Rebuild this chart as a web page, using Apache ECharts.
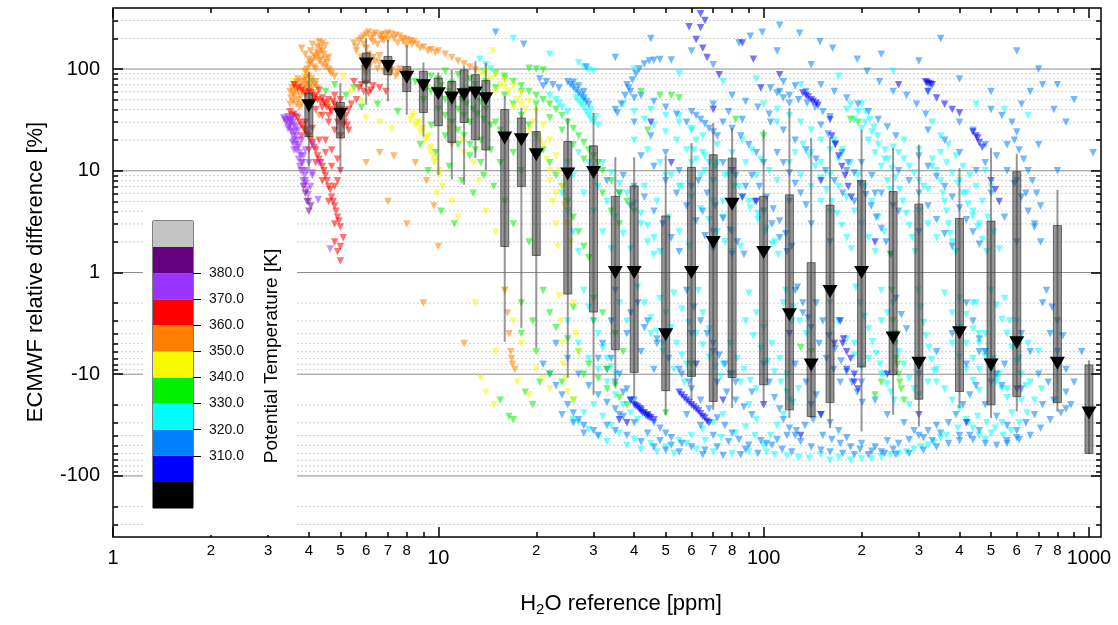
<!DOCTYPE html>
<html><head><meta charset="utf-8">
<script src="https://cdn.jsdelivr.net/npm/echarts@6/dist/echarts.min.js"></script>
<style>html,body{margin:0;padding:0;background:#fff}#c{width:1118px;height:625px}</style>
</head><body><div id="c"></div>
<script>
// ---------- axis ticks ----------
const xMajorTicks = [1, 10, 100, 1000];
const xMinorTicks = [2,3,4,5,6,7,8,9,20,30,40,50,60,70,80,90,200,300,400,500,600,700,800,900];
const xMinorLabels = [2,3,4,5,6,7,8,20,30,40,50,60,70,80,200,300,400,500,600,700,800];
const yMajorTicks = [100, 10, 1, -10, -100];
const yMinorTicks = [300,200,90,80,70,60,50,40,30,20,9,8,7,6,5,4,3,2,-2,-3,-4,-5,-6,-7,-8,-9,-20,-30,-40,-50,-60,-70,-80,-90,-200,-300];
// ---------- colour scale (potential temperature) ----------
const thetaEdges = [290,300,310,320,330,340,350,360,370,380,390,400];
const thetaColors = ['#000000','#0000FF','#0080FF','#00FFFF','#00F000','#F8F800','#FF8000','#FF0000','#9933FF','#660080','#C4C4C4'];
const thetaTicks = [310,320,330,340,350,360,370,380];
// ---------- box statistics per H2O bin ----------
const boxPPM = [4,5,6,7,8,9,10,11,12,13,14,16,18,20,25,30,35,40,50,60,70,80,100,120,140,160,200,250,300,400,500,600,800,1000];
const boxWhiskerLow = [11,9.8,44.6,48,35.5,21.7,9.1,8.2,7.3,13.3,10.2,-4.8,-3.5,-5.5,-10.9,-16,-13.2,-17.2,-25,-17.9,-22.4,-21.5,-19.2,-27,-27,-34,-36.6,-25,-32.7,-21.5,-27,-23.3,-23.3,-61];
const boxQ1 = [21.7,21,73,88,60,37.4,27.7,19,29.8,20.2,16,1.8,7.0,1.47,-1.63,-2.45,-5.75,-9.6,-14.5,-10.5,-18.5,-10.8,-12.7,-22.4,-26,-19,-8.5,-10.1,-17.6,-14.8,-20,-16.6,-19,-60];
const boxQ3 = [58,47,144,133,106,95,81.6,75.5,98,88,77,40,33,24.3,19.4,17.6,5.6,7.1,3.6,10.8,14.4,13.3,5.6,5.8,1.25,4.6,8.0,6.25,4.7,3.4,3.2,9.8,2.9,-8.1];
const boxWhiskerHigh = [95,73,202,194,173,116,92.6,98,106,119,115,54,41.6,42.6,33,36.9,13.6,13.6,14,18.7,29.4,26.3,25.3,41.4,21,21.5,25.3,16.7,18,10.6,16.7,14.7,6.5,-7.3];
const boxMedian = [43.5,36,112,106,83,68.5,57,52,56,58,51,21,20.2,14.4,9.3,9.6,1,1,-4.1,1,1.97,4.7,1.57,-2.6,-8.1,-1.54,1,-4.4,-7.8,-3.9,-8.1,-4.9,-7.8,-24];
// ---------- scatter [H2O ppm, rel. diff %] by theta band ----------
const pts325 = [ // cyan 320-330 K
[13.4,125],[14,110],[13.8,95],[14.5,100],[22,55],[23,50],[24,42],[25,38],[23.5,46],
[26.5,52],[27,48],[27.5,45],[28,42],[28.5,38],[29,35],[29.5,32],[30,30],[31,28],[28,50],[29.5,40],[30.5,34],[27,115],[28,105],[29,98],[30,95],
[37,45],[40,38],[43,32],[46,28],[50,24],[54,20],[58,16],[62,13],[66,10],[70,8],[45,40],[50,35],[55,30],[60,26],[65,22],[72,18],[80,15],[88,12],[95,9],
[40,20],[44,16],[48,12],[52,9],[56,7],[60,5.5],[64,4.2],[68,3.3],[72,2.5],[76,2],[80,1.6],
[100,45],[110,40],[120,35],[130,30],[140,25],[150,20],[160,16],[170,13],[180,40],[190,32],[200,26],[210,20],[220,15],[230,11],[240,8],[245,6.5],
[185,45],[195,38],[205,30],[215,24],[225,18],[235,13],[120,12],[130,9],[140,7],[150,5],[160,4],
[250,17],[260,15],[270,13],[280,11],[290,9.5],[300,8],[310,7],[320,6.5],[330,13],[340,10],[350,8],[355,6],[360,5],[365,4],[370,3],[375,2.4],[380,2],[390,1.6],
[270,20],[300,16],[330,11],[400,8],[420,6],[440,4],[460,3],[480,10],[500,7],
[17,200],[22,140],[40,100],[55,90],[75,75],[95,80],[130,70],[170,85],[250,95],[320,60],[450,45],[550,40],[650,35],
[25,-3],[27,-5],[29,-7],[31,-9],[33,-12],[35,-16],[37,-20],[39,-24],[41,-28],[26,-28],[28,-24],[30,-20],[32,-26],[34,-32],[36,-38],[40,-44],[45,-48],[50,-52],
[55,-45],[60,-40],[65,-35],[70,-30],[75,-25],[62,-55],[70,-58],[80,-60],[90,-58],[100,-50],[105,-40],[110,-32],[115,-25],[120,-18],[128,-14],
[150,-62],[170,-66],[200,-68],[230,-65],[260,-60],[290,-55],[320,-50],[350,-42],[280,-20],[300,-16],[320,-12],[340,-9],[360,-14],[380,-18],[400,-22],[420,-28],[440,-34],[460,-40],[480,-44],
[500,-38],[540,-30],[580,-24],[620,-18],[660,-12],[700,-6],[450,-2],[480,-4],[510,-7],[530,-10],[560,-14],[230,-10],[210,-7],[190,-5],[170,-3],[600,-3],[650,-5],[90,-20],[95,-28],[85,-12],[75,-8],[250,-2],[230,-3],
[440,-2],[460,-4],[480,-6],[500,-9],[520,-12],[55,35],[60,25],[65,15],[70,8],[75,5],[62,20],[68,12],[110,30],[125,15],
[24,6],[25,4],[26,2.5],[27,1.6],[28,-1.5],[29,-2.2],[30,-3],[31,-4],[32,-5.5],[33,-7],[34,-8.5],[35,-10],[26,9],[28,6],[30,4],[32,2.5],[34,1.7],[36,-2],[38,-3],[25,12],[27,15],[29,12],
[42,3],[44,2],[46,1.5],[48,-1.8],[50,-2.5],[52,-3.5],[54,-5],[56,-6.5],[58,-8],[60,-10],[43,7],[47,5],[51,3.5],[55,2.5],[59,1.8],[63,-1.5],[50,9],[55,7],[60,12],[64,9],[45,-4],[49,-6],[53,-9],[57,-12],
[70,5],[75,3.5],[80,2.5],[85,1.8],[90,-1.6],[95,-2.5],[100,-3.5],[106,-5],[112,-7],[118,-10],[72,12],[78,9],[84,7],[90,5],[96,3.8],[102,2.7],[108,2],[115,-2],[122,-3],[86,20],[92,16],[98,13],[104,10],[110,8],
[140,15],[150,12],[160,9],[170,7],[180,5.5],[190,4],[200,3],[210,2.2],[220,1.6],[230,-1.5],[240,-2.5],[250,-4],[260,-6],[270,-8],[280,-11],[290,-14],[165,20],[175,16],[185,12],[195,9],[205,7],[215,5],[225,3.5],[235,2.5],[160,-2],[170,-3],[180,-4.5],[190,-6.5],[200,-8.5],
[300,4],[320,3],[340,2.2],[360,-1.6],[380,-2.5],[400,-3.5],[420,-5],[440,-7],[460,-9],[330,30],[350,22],[370,18],[390,14],[410,11],[430,9],[450,7],[470,5],[490,3.5],[510,2.5],[530,1.7],[550,-1.8],[570,-3],[590,-5],[610,-7],
[31,7],[33,5],[35,3.5],[37,2.4],[39,1.7],[41,-1.4],[43,-2],[45,-2.8],[47,-3.8],[49,-5],[32,12],[34,9.5],[36,7.5],[38,6],[40,4.8],[42,3.8],[44,2.9],[46,2.2],[48,1.6],[53,-1.6],[56,-2.3],[59,-3.1],[62,-4],[65,-5.2],[68,-6.8],[71,-8.5],[74,-10.5],
[61,16],[66,14],[71,11],[76,9],[81,7],[86,5.5],[91,4.3],[96,3.3],[101,2.5],[106,1.9],[111,1.5],[117,-1.5],[123,-2.2],[129,-3],[135,-4],[88,-3],[93,-4.2],[98,-5.6],[103,-7.5],[108,-9.5],[113,-12],[118,-15],[123,-19],[79,-5],[83,-7],[87,-9],[91,-11.5],[95,-14],[65,-2.5],[68,-3.6],
[132,18],[138,14],[144,11],[150,8.5],[156,6.5],[162,5],[168,3.8],[174,2.9],[180,2.2],[186,1.7],[192,-1.4],[198,-2],[204,-2.7],[210,-3.6],[216,-4.8],[222,-6.3],[228,-8],[234,-10],[240,-12.5],[246,-15],[252,-18],
[200,45],[206,38],[212,32],[218,27],[224,22],[236,16],[242,13],[248,10.5],[254,8.5],[262,6.5],[268,5],[274,3.8],[280,2.9],[286,2.2],[292,1.6],[298,-1.5],[304,-2.2],[310,-3.1],[316,-4.2],[322,-5.5],[328,-7.2],[334,-9.3],[340,-12],
[350,15],[365,12],[380,9.5],[395,7.5],[410,6],[425,4.7],[440,3.6],[455,2.8],[470,2.1],[485,1.6],[500,-1.5],[520,-2.1],[540,-2.9],[560,-4],[580,-5.5],[600,-7.5],[620,-10],[640,-13],
[400,-1.8],[420,-2.6],[440,-3.6],[460,-5],[480,-6.7],[500,-8.7],[520,-11],[540,-14],[560,-17],[380,-5],[400,-6.8],[420,-9],[440,-11.5],[460,-14.5],
[27,-30],[29,-35],[31,-41],[33,-46],[38,-50],[42,-55],[47,-58],[53,-60],[58,-48],[66,-45],[74,-42],[82,-38],[88,-33],[94,-40],[102,-58],[108,-62],[118,-64],[128,-66],[138,-67],[160,-70],[185,-70],[215,-68],[245,-62],[275,-58],[305,-52],[335,-47],[365,-40],[395,-34],[425,-30],[455,-26],[485,-30],[515,-34],[545,-40],[575,-36],[610,-30],[645,-24],[680,-18],[715,-14]
];
const pts315 = [ // light blue 310-320 K
[20.5,80],[21.5,75],[22.5,70],[23.5,65],[21,68],
[25,75],[25.5,70],[26,66],[26.5,62],[27,58],[27.5,55],[28,52],[28.5,48],[29,45],[26,74],[27,68],[28,60],
[35.5,37],[36.5,45],[37.5,55],[38.5,65],[39.5,78],[40.5,90],[41.5,100],[43,112],[44.5,120],[46,122],[48,124],[38,70],[39,60],[40,52],[52,123],
[60,38],[62,35],[64,32],[66,29],[68,26],[70,24],[72,22],[75,30],[80,26],[85,22],[90,18],[95,15],[100,12],[42,55],[46,48],[50,42],[54,36],[58,30],[70,45],[78,38],[86,32],
[105,30],[115,25],[125,20],[135,16],[145,13],[155,10],[165,8],[175,6],[190,5],[200,12],[215,9],[230,6],[250,4.5],[112,60],[120,55],[128,50],[136,46],[144,42],[152,38],[160,34],
[105,65],[110,58],[115,52],[120,46],
[590,20],[610,16],[630,13],[650,10],[670,8],[690,6],[710,4.5],[600,24],[560,18],[520,14],[480,18],[440,25],[400,30],[360,20],[320,25],
[15,230],[18.3,175],[28.5,105],[84,180],[91,210],[99,230],[112,270],[129,225],[149,185],[163,160],[194,125],[208,95],[227,75],[250,60],[275,55],[295,45],[315,36],
[60,150],[70,110],[35,130],[45,200],[110,150],[140,110],[230,140],[300,120],[400,80],[500,60],[350,200],[700,100],[800,70],[900,50],[600,150],
[35,40],[40,30],[45,22],[50,15],[55,10],[60,7],[65,4],[70,2.5],[80,1.5],[120,5],[140,3],[160,2],[180,10],[220,6],[260,4],[300,2.5],
[21,-8],[22,-10],[23,-13],[24,-16],[25,-20],[26,-24],[27,-28],[28,-32],[30,-36],[24,-25],[26,-30],[28,-38],[31,-40],
[32,-5],[34,-7],[36,-10],[38,-14],[40,-18],[42,-22],[44,-26],[46,-30],[48,-34],[50,-38],[36,-25],[40,-30],[44,-38],[48,-45],[52,-50],[34,-3],[38,-4],[42,-6],[46,-9],
[56,-10],[60,-14],[64,-18],[68,-22],[72,-27],[76,-32],[80,-38],[84,-44],[90,-50],[58,-25],[64,-32],[70,-40],[78,-46],[88,-55],[96,-60],[100,-8],[104,-12],[108,-17],[112,-22],[60,-4],[70,-6],[80,-10],[92,-15],
[115,-28],[120,-34],[125,-40],[130,-46],[140,-52],[150,-56],[160,-58],[175,-60],[190,-62],[210,-62],[230,-58],[250,-55],[140,-20],[150,-25],[160,-30],[170,-36],[180,-42],[200,-48],[220,-52],[240,-45],[125,-8],[135,-12],[145,-16],[200,-12],[220,-18],[240,-25],
[270,-30],[290,-36],[310,-42],[330,-45],[350,-38],[370,-30],[390,-25],[410,-20],[430,-16],[450,-13],[480,-20],[520,-26],[560,-32],[600,-36],[640,-30],[680,-25],[720,-20],[780,-18],[850,-22],
[300,-10],[340,-6],[380,-4],[420,-8],[460,-6],[500,-12],[550,-8],[620,-14],[700,-10],[750,-12],[850,-15],
[400,15],[450,10],[500,6],[550,3.5],[600,2],[480,12],[700,18],[800,10],[1030,15],
[30,10],[33,8],[36,6],[39,4.5],[42,14],[46,11],[50,8],[54,6],[58,4.5],[62,3.2],[66,2.3],[70,1.7],[35,-1.5],[39,-2.5],[43,-3.5],[47,-5],[51,-7],[55,-9],[59,-12],
[75,12],[82,9],[88,7],[94,5],[100,4],[106,3],[112,2.2],[118,1.6],[125,-1.5],[132,-2.5],[140,-3.5],[148,-5],[156,-7],[164,-9],[172,-12],
[80,55],[88,48],[96,42],[104,36],[115,75],[125,68],[135,60],[150,70],[165,60],[180,52],[195,45],[210,38],[225,32],[240,27],[255,22],
[260,10],[280,8],[300,6],[320,4.5],[340,3.3],[360,2.4],[380,1.8],[420,-2],[440,-3],[460,-4.5],[480,-6],[500,-8],[520,-10],[540,-13],
[600,8],[640,6],[680,3],[720,-2],[760,-4],[800,-6],[850,-9],[900,-12],[950,-6],[620,-4],[660,-6],
[500,40],[540,35],[580,30],[620,45],[660,60],[720,70],[780,40],[850,30],
[23,-5],[25,-7],[27,-10],[29,-13],[31,-16],[33,-19],[35,-22],[37,-26],[52,-42],[56,-48],[60,-52],[66,-56],[72,-52],[98,-45],[106,-50],[114,-55],[122,-58],[260,-48],[280,-44],[300,-40],[320,-36],[340,-32],[400,-45],[430,-40],[460,-36],[560,-45],[600,-42],
[37,9],[40,7],[43,5.5],[46,4],[49,3],[52,2.2],[55,1.6],[58,-1.5],[61,-2.2],[64,-3],[67,-4],[70,-5],[73,-6.5],[76,-8],[79,-10],[82,-12],[31,-7],[33,-9],[35,-12],[37,-15],[39,-18],[41,-2],[44,-3],[47,-4.5],
[63,8],[67,6],[71,4.5],[75,3.4],[79,2.6],[83,2],[87,1.5],[92,9],[97,7],[102,5.5],[107,4.2],[112,3.2],[117,2.4],[122,1.8],[127,-1.4],[132,-2],[137,-2.8],[110,15],[115,12],[120,9.5],[125,7.5],[130,6],[135,4.6],[72,-12],[77,-15],[82,-18],[87,-21],[92,-25],
[145,-2],[152,-3],[159,-4.2],[166,-5.6],[173,-7.4],[180,-9.5],[187,-12],[194,-15],[201,-19],[150,28],[158,23],[166,18.5],[174,15],[182,12],[190,9.5],[198,7.5],[206,5.8],[214,4.5],[222,3.5],[230,2.7],[238,2],[246,1.5],[255,-1.8],[265,-2.6],[275,-3.6],
[300,14],[320,11],[340,8.8],[360,7],[380,5.5],[400,4.3],[420,3.3],[440,2.5],[460,1.9],[560,10],[590,7.5],[620,5.5],[650,4],[680,2.8],[710,2],[740,-1.5],[770,-2.2],[800,-3],[830,-4.2],
[33,-32],[35,-36],[38,-40],[42,-46],[46,-52],[50,-56],[55,-58],[65,-62],[75,-63],[85,-62],[102,-48],[110,-44],[118,-40],[126,-36],[134,-32],[142,-28],[152,-40],[162,-44],[172,-48],[185,-52],[198,-55],[215,-57],[235,-60],[255,-62],[280,-60],[310,-56],[340,-52],[370,-48],[400,-40],[440,-44],[480,-48],[520,-50],[560,-48],[610,-44],[660,-40],[710,-34],[760,-28],[820,-24],[880,-20]
];
const pts305 = [ // blue 300-310 K
[64,350],[66,300],[59,260],[64,255],[62,195],[65,160],[67,130],[86,180],[93,125],[73,88],[112,88],[98,65],[132,58],[137,53],[142,48],[147,44],[315,75],[322,72],[330,70],[160,32],
[440,24],[455,21],[470,17],[500,8],[515,6.5],[530,5],[320,60],[340,52],[360,45],[380,40],[400,37],[175,-5],[185,-7],[190,-10],[195,-14],
[40,-20],[41,-21],[42,-23],[43,-24],[44,-25],[45,-27],[55,-15],[57,-17],[59,-19],[61,-21],[63,-23],[65,-26],[67,-29],[150,-25],[100,-20],[120,-4],[240,-10],[300,-25],[600,-14],
[70,40],[80,10],[260,70],[86,5.5],[95,5],[165,-5],[180,-9],[190,-12],[38,-30],[36,-28],[62,-8],[75,-18],[45,30],[52,12],[130,-40],[150,8],[220,2],[420,-30],
[39,-18],[40.5,-20.5],[41.5,-22],[42.5,-24],[43.5,-25.5],[44.5,-26.5],[46,-28],[56,-16],[58,-18],[60,-20],[62,-22],[64,-24.5],[66,-27],[68,-30],[135,55],[140,50],[145,46],[318,73],[326,71],[450,22],[460,19],
[162,22],[166,18],[170,14],[174,11],[178,9],[182,7],[186,5.5],[172,-3],[176,-4.5],[180,-6]
];
const pts335 = [ // green 330-340 K
[4.1,75],[4.5,60],[5.2,55],[5.8,42],[6.5,45],[7.5,38],[4.8,70],[5.5,65],
[8.5,75],[9,70],[9.5,60],[10,55],[10.5,50],[11,45],[11.5,40],[12,35],[12.5,30],[9.5,85],[10,80],[11,72],[12,62],[13,55],[13.5,48],[10.5,95],[11.5,88],[12.5,80],[13,70],[9,50],[10,40],[11,30],[12,22],[13,16],
[14,75],[15,65],[16,55],[17,45],[18,35],[19,28],[20,22],[21,16],[22,12],[23,9],[24,7],[25,5],[26,3.5],[27,2.5],[28,1.8],[29,1.4],[16,80],[18,60],[20,45],[22,33],[24,25],[26,18],[28,13],[30,9],[32,6],[34,4],[36,3],[14,40],[15,30],[16,22],[17,15],[18,10],
[20,100],[21,98],[19,102],[48,55],[52,55],[55,52],[42,60],[44,25],[82,32],[100,22],[185,32],[195,30],
[24,-12],[26,-18],[22,-10],[33,-9],[35,-13],[36,-17],[17,-28],[16.5,-26],[38,-20],[50,-24],[60,-8],[20,-6],[18,-4],[30,-3],[130,-5.5],[140,-6],
[245,1.5],[248,-1.5],[250,-3],[253,-5],[256,-7],[260,-10],[265,-14],[270,-18],[230,-12],[220,-16],[255,-4],[258,-8],[262,-12],
[21,-1.5],[22,-2.5],[23,-3.5],[25,-4.5],[27,-6],[29,-8],[31,-11],[33,-14],[35,-4],[37,-6],[30,-1.8],[26,-2.2],[28,-10],[32,-2.5],
[9.2,65],[9.8,62],[10.2,68],[10.8,60],[11.2,55],[11.8,50],[12.2,45],[12.8,40],[13.2,36],[13.8,32],[14.5,28],[15.5,25],[10.5,35],[11.5,25],[12.5,18],[13.5,12],
[15,90],[16,85],[17,75],[18,68],[19,60],[20,55],[21,50],[22,45],[23,40],[24,35],[25,30],[26,26],[27,22],[28,19],[29,16],[30,14],[31,12],[32,10],[34,8],[36,6],[38,5],[40,4],
[9.5,28],[10.5,22],[11.5,18],[12.5,14],[13.5,20],[14.5,16],[9.8,15],[10.8,11],[11.8,8],[12.8,6],[13.8,9],[14.8,7],[10.2,4],[11.2,3],[15.5,12],[16,5],[17,3],[19,2],[18,-2],[19.5,-3],[20.5,-12],[18.5,-15],[19.5,-20],[15.5,-18],[8.8,18],[9.3,10]
];
const pts345 = [ // yellow 340-350 K
[3.6,75],[3.9,90],[4.6,44],[5.1,85],[5.4,60],[6.0,33],[6.6,30],[7.2,26],[4.2,50],[5.8,48],
[8.2,32],[8.5,28],[8.8,24],[9.1,20],[9.4,16],[9.7,12],[10,9],[8.4,36],[9.0,26],[9.6,14],[10.3,7],[8.7,30],[9.3,22],
[13.5,90],[14.5,80],[15.5,70],[16.5,60],[17.5,50],[18.5,40],[19.5,30],[20.5,20],[21.5,13],[22,8],[22.5,5],[23,3],[23.3,1.8],[23.5,-1.7],[23.8,-3],[24,-5],[24.2,-8],[24.5,-11],[25,-15],
[15,60],[17,42],[19,25],[20,15],[14,85],[16,65],[18,45],[21,18],[22,10],[23,6],
[16,-1.5],[17,-3],[18,-5],[13.5,-11],[14,-15],[14.8,-20],[21,-11],[22,-14],[20,-9],[26,-18],[14.7,150],[12,15],[11,5],
[14,95],[15,88],[16,78],[17,68],[18,58],[19,48],[20,38],[21,28],[22,20],[23,14],[23.5,10],[24,7],[24.5,4.5],[25,3],[25.5,2],[26,-2],[26.5,-4],[27,-6],[8.3,34],[8.6,30],[8.9,26],[9.2,21],[9.5,17],[9.8,13],[10.1,10],
[10.8,26],[11.8,20],[12.8,12],[13.3,8],[9.9,6],[11.5,3.5],[14,4],[15,2.5],[13,-2],[15,-6],[17.5,-12],[19,-16]
];
const pts355 = [ // orange 350-360 K
[3.5,60],[3.6,70],[3.7,80],[3.8,75],[3.9,70],[4.0,85],[3.6,55],[3.7,50],[3.8,45],[3.9,55],[4.1,65],[4.2,75],[3.5,45],[3.55,65],[4.0,40],[4.3,35],[3.65,62],[3.75,68],[3.85,60],[3.95,64],
[3.9,95],[4.0,110],[4.1,120],[4.2,130],[4.3,140],[4.4,150],[4.2,100],[4.4,110],[4.6,100],[4.5,125],[4.7,90],[4.8,85],[4.1,175],[4.3,185],[4.5,170],[3.8,160],[3.9,140],[4.0,125],[4.3,120],[4.5,105],
[5.5,180],[5.8,200],[6.0,220],[6.3,215],[6.6,210],[7.0,225],[7.4,215],[7.8,200],[8.2,190],[8.6,175],[9.0,165],[9.5,155],[10,150],[10.5,140],[11,130],[11.5,120],[12,112],[12.5,105],[13,98],
[5.6,150],[6.0,160],[6.5,175],[7.0,195],[7.5,180],[8.0,170],[6.2,200],[6.8,190],
[6.2,110],[6.5,100],[6.8,95],[7.1,90],[7.4,85],[6.4,120],[7.0,110],[7.6,100],[8.0,95],[5.8,130],[5.9,100],[6.0,90],
[6.6,15],[7.3,14],[6.0,12],[9.7,4.5],[10,1.8],[9,-2],[12,-5],
[16.3,-2.5],[16.5,-4],[16.7,-6],[16.9,-8],[17.2,-9],[16,-1.5],[16.8,-7],
[3.52,52],[3.58,58],[3.62,66],[3.68,74],[3.72,60],[3.78,54],[3.82,66],[3.88,78],[3.92,82],[3.98,72],[4.02,68],[4.08,80],[4.12,58],[4.18,70],[4.25,65],[3.58,48],[3.66,45],[3.74,42],
[3.95,100],[4.05,115],[4.15,135],[4.25,145],[4.35,160],[4.45,140],[4.55,115],[4.65,95],[4.15,105],[4.35,125],[4.05,150],[4.25,165],[4.4,180],[4.6,130],
[5.7,190],[5.9,210],[6.1,230],[6.4,225],[6.7,220],[6.9,215],[7.2,220],[7.6,210],[8.0,195],[8.4,185],[5.6,165],[5.9,175],[6.3,185],[6.7,195],[7.3,200],[7.8,185],[8.3,175],[8.8,160],[9.3,150],[9.8,145],
[6.3,130],[6.6,115],[6.9,105],[7.2,98],[7.5,92],[7.8,88],[6.1,140],[6.6,135],
[8.5,12],[9.2,8],[11,18],[7,5],[8,3]
];
const pts365 = [ // red 360-370 K
[3.5,38],[3.6,36],[3.7,33],[3.8,28],[3.9,25],[4.0,22],[4.1,19],[4.2,16],[4.3,13],[4.4,11],[4.5,9],[4.6,7],[4.7,5.5],[4.8,4.5],[4.9,3.5],[5.0,2.8],[5.1,2.2],[5.0,1.8],[4.8,3],[4.6,5],[4.4,8],[4.2,12],[4.0,16],[3.8,22],[3.9,30],[4.1,26],[4.3,20],[4.5,15],[4.7,11],[4.9,8],
[4.0,60],[4.2,55],[4.4,52],[4.6,50],[4.8,45],[5.0,40],[5.2,35],[4.5,45],[4.3,62],[4.7,38],[4.9,30],[5.1,28],[5.3,25],[4.1,48],[4.4,42],[4.6,35],[4.8,55],[5.0,50],
[5.5,75],[5.8,70],[6.0,72],[6.3,68],[6.6,65],[6.9,60],[5.7,65],[6.2,62],
[3.7,65],[3.8,62],[3.6,70],[3.9,58],[4.8,2.0],[4.9,1.6],[5.0,1.3],
[3.55,35],[3.65,34],[3.75,30],[3.85,26],[3.95,23],[4.05,20],[4.15,17],[4.25,14],[4.35,12],[4.45,10],[4.55,8],[4.65,6.5],[4.75,5],[4.85,4],[4.95,3.2],
[4.05,58],[4.15,52],[4.25,50],[4.35,48],[4.45,47],[4.55,42],[4.65,40],[4.75,48],[4.85,42],[4.95,36],[5.05,33],[5.15,30],[5.25,28],[4.2,40],[4.4,35],[4.6,30],[4.8,25],[5.0,22],[4.5,20],[4.7,16],[4.9,13],[5.0,10],[4.8,7],
[5.3,40],[5.4,45],[5.6,50],[5.9,60],[6.1,58]
];
const pts375 = [ // purple 370-380 K
[3.35,33],[3.45,34],[3.55,33],[3.6,28],[3.5,28],[3.4,30],[3.55,24],[3.65,22],[3.7,18],[3.6,20],[3.75,15],[3.8,12],[3.85,10],[3.9,8],[3.95,6.5],[4.0,5],[3.7,25],[3.8,20],[3.9,16],[4.0,12],[4.1,9],
[3.5,30],[3.65,27],[3.85,14],[3.95,10],[4.05,7],[4.1,18],[4.3,12],[4.27,5.2],[4.65,1.7],[4.1,9.5],[3.45,26],[3.6,16],[3.75,11],
[3.38,32],[3.42,31],[3.48,32],[3.52,31],[3.58,30],[3.48,27],[3.52,25],[3.58,22],[3.62,24],[3.68,20],[3.72,17],[3.78,14],[3.82,12],[3.88,9],[3.92,7.5],[3.98,5.8],[3.66,16],[3.72,13],[3.78,10],[3.84,8],[3.56,19],[3.62,18]
];
const pts385 = [ // dark purple 380-390 K
[3.95,5],[4.0,4],[3.9,6],[4.05,4.5],[3.85,7]
];

// ---------- transforms ----------
const L10 = Math.log10;
function ty(v){ return v >= 1 ? L10(v) : (v <= -1 ? -L10(-v) : 0); }
function inv(t){ return t >= 0 ? Math.pow(10, t) : -Math.pow(10, -t); }
const FONT = '"Liberation Sans", Arial, sans-serif';
const XMAX = 3.037, YMIN = -2.6, YMAX = 2.6;

const chart = echarts.init(document.getElementById('c'));
const tickStyle = {color:'#000', width:1.5};
const noLine = {show:false, onZero:false};
const xBase = {type:'value', min:0, max:XMAX, gridIndex:0, splitLine:{show:false}, axisLine:noLine};
const yBase = {type:'value', min:YMIN, max:YMAX, gridIndex:0, splitLine:{show:false}, axisLine:noLine};
const xMajT = xMajorTicks.map(L10), xMinT = xMinorTicks.map(L10);
const yMajT = yMajorTicks.map(ty), yMinT = yMinorTicks.map(ty);
function leading(v){ const n = Math.round(Math.pow(10, v)); return String(Math.round(n / Math.pow(10, Math.floor(L10(n) + 1e-9)))); }

function scatterSeries(name, pts, color){
  return {name, type:'scatter', xAxisIndex:0, yAxisIndex:0, z:2,
    symbol:'triangle', symbolRotate:180, symbolSize:7.5, silent:true,
    itemStyle:{color, opacity:0.55},
    data: pts.map(p => [L10(p[0]), ty(p[1])])};
}
const gridLineData = yMajT.map(t => [0, t, 1]).concat(yMinT.map(t => [0, t, 0]));

const option = {
  animation:false, backgroundColor:'#fff',
  grid:[
    {left:113, top:8, right:17, bottom:88, show:true, borderColor:'#000', borderWidth:1.5, backgroundColor:'transparent'},
    {left:153, top:221, width:40, height:287, show:true, borderColor:'#000', borderWidth:1, z:5, backgroundColor:'transparent'}
  ],
  xAxis:[
    Object.assign({}, xBase, {position:'bottom',
      axisTick:{inside:true, length:10, customValues:xMajT, lineStyle:tickStyle},
      axisLabel:{customValues:xMajT, formatter:v => String(Math.round(Math.pow(10, v))), fontSize:20, margin:11, color:'#000', fontFamily:FONT}}),
    Object.assign({}, xBase, {position:'bottom',
      axisTick:{inside:true, length:5, customValues:xMinT, lineStyle:tickStyle},
      axisLabel:{customValues:xMinorLabels.map(L10), formatter:leading, fontSize:15, margin:6, color:'#000', fontFamily:FONT}}),
    Object.assign({}, xBase, {position:'top', axisTick:{inside:true, length:10, customValues:xMajT, lineStyle:tickStyle}, axisLabel:{show:false}}),
    Object.assign({}, xBase, {position:'top', axisTick:{inside:true, length:5, customValues:xMinT, lineStyle:tickStyle}, axisLabel:{show:false}}),
    {type:'value', gridIndex:1, min:0, max:1, show:false, axisLine:noLine}
  ],
  yAxis:[
    Object.assign({}, yBase, {position:'left',
      axisTick:{inside:true, length:10, customValues:yMajT, lineStyle:tickStyle},
      axisLabel:{customValues:yMajT, formatter:v => String(Math.round(inv(v))), fontSize:20, margin:13, color:'#000', fontFamily:FONT}}),
    Object.assign({}, yBase, {position:'left', axisTick:{inside:true, length:5, customValues:yMinT, lineStyle:tickStyle}, axisLabel:{show:false}}),
    Object.assign({}, yBase, {position:'right', axisTick:{inside:true, length:10, customValues:yMajT, lineStyle:tickStyle}, axisLabel:{show:false}}),
    Object.assign({}, yBase, {position:'right', axisTick:{inside:true, length:5, customValues:yMinT, lineStyle:tickStyle}, axisLabel:{show:false}}),
    {type:'value', gridIndex:1, min:290, max:400, position:'right', z:6,
      axisLine:noLine, splitLine:{show:false},
      axisTick:{show:true, inside:false, length:8, customValues:thetaTicks, lineStyle:{color:'#000', width:1}},
      axisLabel:{customValues:thetaTicks, formatter:v => v.toFixed(1), fontSize:14, margin:16, color:'#111', fontFamily:FONT}}
  ],
  graphic:[
    {type:'rect', z:1, silent:true, shape:{x:143, y:205, width:154, height:330}, style:{fill:'#fff'}},
    {type:'text', z:10, x:272, y:356, rotation:Math.PI/2, silent:true,
      style:{text:'Potential Temperature [K]', fontSize:19, fontFamily:FONT, fill:'#000', textAlign:'center', textVerticalAlign:'middle'}},
    {type:'text', z:10, x:36, y:272, rotation:Math.PI/2, silent:true,
      style:{text:'ECMWF relative difference [%]', fontSize:22, fontFamily:FONT, fill:'#000', textAlign:'center', textVerticalAlign:'middle'}},
    {type:'text', z:10, x:621, y:604, silent:true,
      style:{text:'{a|H}{b|2}{a|O reference [ppm]}', textAlign:'center', textVerticalAlign:'middle', fill:'#000',
        rich:{a:{fontSize:22, fontFamily:FONT, lineHeight:26, verticalAlign:'middle'}, b:{fontSize:15, fontFamily:FONT, verticalAlign:'bottom', lineHeight:26}}}}
  ],
  series:[
    {type:'custom', name:'grid', xAxisIndex:0, yAxisIndex:0, z:0, silent:true, data:gridLineData, encode:{x:0, y:1},
      renderItem:(params, api) => {
        const cs = params.coordSys; const p = api.coord([0, api.value(1)]); const major = api.value(2) === 1;
        return {type:'line', shape:{x1:cs.x, y1:p[1], x2:cs.x + cs.width, y2:p[1]},
          style: major ? {stroke:'#8c8c8c', lineWidth:1} : {stroke:'#cfcfcf', lineWidth:1, lineDash:[2,2]}};
      }},
    scatterSeries('325', pts325, thetaColors[3]),
    scatterSeries('315', pts315, thetaColors[2]),
    scatterSeries('305', pts305, thetaColors[1]),
    scatterSeries('335', pts335, thetaColors[4]),
    scatterSeries('345', pts345, thetaColors[5]),
    scatterSeries('355', pts355, thetaColors[6]),
    scatterSeries('365', pts365, thetaColors[7]),
    scatterSeries('375', pts375, thetaColors[8]),
    scatterSeries('385', pts385, thetaColors[9]),
    {type:'custom', name:'boxes', xAxisIndex:0, yAxisIndex:0, z:3, silent:true,
      data: boxPPM.map((x, i) => [L10(x), ty(boxWhiskerLow[i]), ty(boxQ1[i]), ty(boxQ3[i]), ty(boxWhiskerHigh[i])]),
      encode:{x:0, y:[1,2,3,4]},
      renderItem:(params, api) => {
        const x = api.value(0);
        const lo = api.coord([x, api.value(1)]), q1 = api.coord([x, api.value(2)]), q3 = api.coord([x, api.value(3)]), hi = api.coord([x, api.value(4)]);
        const top = Math.min(q1[1], q3[1]), h = Math.abs(q1[1] - q3[1]);
        return {type:'group', children:[
          {type:'line', shape:{x1:lo[0], y1:lo[1], x2:hi[0], y2:hi[1]}, style:{stroke:'rgba(95,95,95,0.65)', lineWidth:2}},
          {type:'rect', shape:{x:q1[0] - 4, y:top, width:8, height:h}, style:{fill:'rgba(60,60,60,0.55)', stroke:'rgba(35,35,35,0.6)', lineWidth:1}}
        ]};
      }},
    {type:'scatter', name:'median', xAxisIndex:0, yAxisIndex:0, z:4, silent:true,
      symbol:'triangle', symbolRotate:180, symbolSize:[15,13], itemStyle:{color:'#000', opacity:1},
      data: boxPPM.map((x, i) => [L10(x), ty(boxMedian[i])])},
    {type:'custom', name:'colorbar', xAxisIndex:4, yAxisIndex:4, z:6, silent:true,
      data: thetaColors.map((c, i) => [0.5, thetaEdges[i], thetaEdges[i + 1]]),
      encode:{x:0, y:[1,2]},
      renderItem:(params, api) => {
        const a = api.coord([0, api.value(2)]), b = api.coord([1, api.value(1)]);
        return {type:'rect', shape:{x:a[0], y:a[1], width:b[0] - a[0], height:b[1] - a[1]}, style:{fill:thetaColors[params.dataIndex]}};
      }}
  ]
};
chart.setOption(option);
</script>
</body></html>
